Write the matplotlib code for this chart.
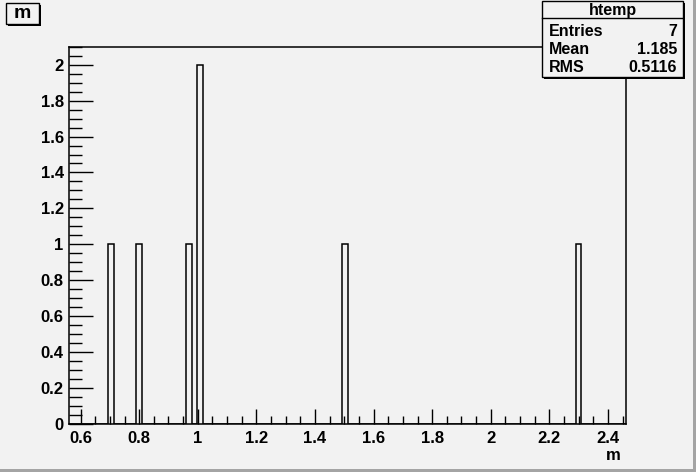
import numpy as np
import matplotlib
matplotlib.use('Agg')
import matplotlib.pyplot as plt
from matplotlib.patches import Rectangle
from matplotlib.ticker import MultipleLocator, FormatStrFormatter

plt.rcParams['font.family'] = 'Liberation Sans'
plt.rcParams['font.weight'] = 'bold'

# data: the 7 entries of the tree variable m
m_values = [0.7, 0.8, 0.97, 1.0, 1.0, 1.5, 2.3]
x_lo, x_hi, nbins = 0.5615, 2.4615, 100
stats_labels = ['Entries', 'Mean', 'RMS']
stats_values = ['7', '1.185', '0.5116']
hist_name = 'htemp'
var_name = 'm'

bg = '#f2f2f2'
W, H = 696, 472
fig = plt.figure(figsize=(W/100, H/100), dpi=100, facecolor=bg)

def px(x, y):
    # pixel coords (top-left origin) -> figure fraction
    return x/W, 1 - y/H

ax = fig.add_axes([69.3/W, (H-424)/H, (626-69.3)/W, (424-46.7)/H])
ax.set_facecolor(bg)
bins = np.linspace(x_lo, x_hi, nbins+1)
ax.hist(m_values, bins=bins, histtype='step', color='black', lw=1.1)
ax.set_xlim(x_lo, x_hi)
ax.set_ylim(0, 2.1)

ax.xaxis.set_major_locator(MultipleLocator(0.2))
ax.xaxis.set_minor_locator(MultipleLocator(0.05))
ax.yaxis.set_major_locator(MultipleLocator(0.2))
ax.yaxis.set_minor_locator(MultipleLocator(0.05))
ax.xaxis.set_major_formatter(FormatStrFormatter('%g'))
ax.yaxis.set_major_formatter(FormatStrFormatter('%g'))
ax.tick_params(axis='x', which='major', direction='in', length=11, width=1, pad=5, labelsize=12)
ax.tick_params(axis='x', which='minor', direction='in', length=5.5, width=1)
ax.tick_params(axis='y', which='major', direction='in', length=17, width=1, pad=4, labelsize=12)
ax.tick_params(axis='y', which='minor', direction='in', length=9, width=1)
for sp in ax.spines.values():
    sp.set_linewidth(1.1)

fig.text(*px(621, 455), var_name, ha='right', va='center', fontsize=12, fontweight='bold')

# title box
def box(x0, y0, x1, y1, sh=2):
    fx0, fy1 = px(x0, y0)
    fx1, fy0 = px(x1, y1)
    fig.add_artist(Rectangle((fx0 + sh/W, fy0 - sh/H), fx1-fx0, fy1-fy0,
                             transform=fig.transFigure, fc='black', ec='black', lw=0, zorder=5))
    fig.add_artist(Rectangle((fx0, fy0), fx1-fx0, fy1-fy0, transform=fig.transFigure,
                             fc=bg, ec='black', lw=1, zorder=6))

box(6, 3, 39, 24)
fig.text(*px(22.5, 14), var_name, ha='center', va='center', fontsize=14, fontweight='bold', zorder=7)

# stats box
box(542, 1, 683, 77)
fig.add_artist(plt.Line2D([542/W, 683/W], [1-18/H, 1-18/H], transform=fig.transFigure,
                          color='black', lw=1, zorder=7))
fig.text(*px(612.5, 10), hist_name, ha='center', va='center', fontsize=11.5, fontweight='bold', zorder=7)
for i, (lab, val) in enumerate(zip(stats_labels, stats_values)):
    yy = 31 + i*18.5
    fig.text(*px(549, yy), lab, ha='left', va='center', fontsize=11.5, fontweight='bold', zorder=7)
    fig.text(*px(677, yy), val, ha='right', va='center', fontsize=11.5, fontweight='bold', zorder=7)

# canvas bevel
fig.add_artist(Rectangle((0, 0), 1, 3/H, transform=fig.transFigure, fc='#a4a4a4', lw=0, zorder=8))
fig.add_artist(Rectangle((1-3/W, 0), 3/W, 1, transform=fig.transFigure, fc='#a4a4a4', lw=0, zorder=8))

fig.savefig('out.png', dpi=100, facecolor=bg)
